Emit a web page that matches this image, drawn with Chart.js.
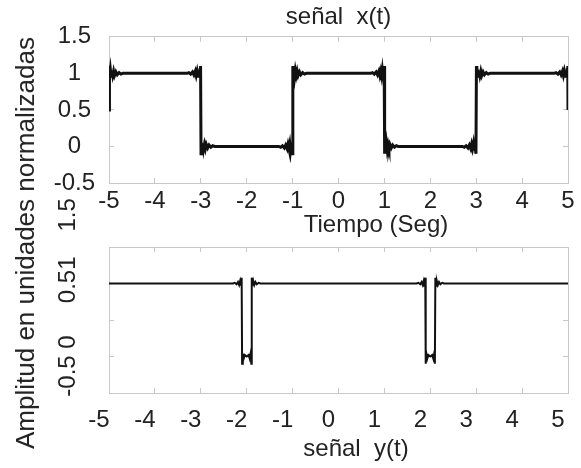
<!DOCTYPE html>
<html>
<head>
<meta charset="utf-8">
<script src="https://cdn.jsdelivr.net/npm/chart.js@4.4.1/dist/chart.umd.min.js"></script>
<style>
  body { margin: 0; background: #fff; }
  #wrap { position: relative; width: 581px; height: 468px; background: #fff; }
  #wrap canvas { position: absolute; left: 0; top: 0; }
  .lbl {
    position: absolute; white-space: pre; color: #222;
    font: 24px 'Liberation Sans', Arial, sans-serif; line-height: 28px;
  }
  #ylab { left: 25px; top: 243px; transform: translate(-50%, -50%) rotate(-90deg); font-size: 26px; }
  #xlabTop { left: 376px; top: 224px; transform: translate(-50%, -50%); }
  #xlabBot { left: 356px; top: 448px; transform: translate(-50%, -50%); }
</style>
</head>
<body>
<div id="wrap">
  <canvas id="topChart" width="581" height="468"></canvas>
  <canvas id="botChart" width="581" height="468"></canvas>
  <div class="lbl" id="ylab">Amplitud en unidades normalizadas</div>
  <div class="lbl" id="xlabTop">Tiempo (Seg)</div>
  <div class="lbl" id="xlabBot">señal  y(t)</div>
</div>
<script>
// señal x(t): onda cuadrada con el rizado de Gibbs en cada salto
const tX = [
  -5, -4.995, -4.985, -4.97, -4.955, -4.94, -4.92, -4.9, -4.88, -4.85, -4.82, -4.78, -4.74, -4.7,
  -3.3, -3.26, -3.22, -3.18, -3.15, -3.12, -3.1, -3.08, -3.06, -3.045, -3.03, -3.015, -3.005,
  -2.995, -2.985, -2.97, -2.955, -2.94, -2.92, -2.9, -2.88, -2.85, -2.82, -2.78, -2.74, -2.7,
  -1.3, -1.26, -1.22, -1.18, -1.15, -1.12, -1.1, -1.08, -1.06, -1.045, -1.03, -1.015, -1.005,
  -0.995, -0.985, -0.97, -0.955, -0.94, -0.92, -0.9, -0.88, -0.85, -0.82, -0.78, -0.74, -0.7,
  0.7, 0.74, 0.78, 0.82, 0.85, 0.88, 0.9, 0.92, 0.94, 0.955, 0.97, 0.985, 0.995,
  1.005, 1.015, 1.03, 1.045, 1.06, 1.08, 1.1, 1.12, 1.15, 1.18, 1.22, 1.26, 1.3,
  2.7, 2.74, 2.78, 2.82, 2.85, 2.88, 2.9, 2.92, 2.94, 2.955, 2.97, 2.985, 2.995,
  3.005, 3.015, 3.03, 3.045, 3.06, 3.08, 3.1, 3.12, 3.15, 3.18, 3.22, 3.26, 3.3,
  4.7, 4.74, 4.78, 4.82, 4.85, 4.88, 4.9, 4.92, 4.94, 4.955, 4.97, 4.985, 4.995, 5
];
const xVals = [
  0.5, 1.1, 0.95, 1.05, 0.96, 1.04, 0.97, 1.03, 0.97, 1.02, 0.98, 1.01, 0.99, 1,
  1, 1.01, 0.99, 1.02, 0.98, 1.03, 0.97, 1.03, 0.96, 1.04, 0.95, 1.05, 1.1,
  -0.1, 0.05, -0.05, 0.04, -0.04, 0.03, -0.03, 0.03, -0.02, 0.02, -0.01, 0.01, 0,
  0, -0.01, 0.01, -0.02, 0.02, -0.03, 0.03, -0.03, 0.04, -0.04, 0.05, -0.05, -0.1,
  1.1, 0.95, 1.05, 0.96, 1.04, 0.97, 1.03, 0.97, 1.02, 0.98, 1.01, 0.99, 1,
  1, 1.01, 0.99, 1.02, 0.98, 1.03, 0.97, 1.03, 0.96, 1.04, 0.95, 1.05, 1.1,
  -0.1, 0.05, -0.05, 0.04, -0.04, 0.03, -0.03, 0.03, -0.02, 0.02, -0.01, 0.01, 0,
  0, -0.01, 0.01, -0.02, 0.02, -0.03, 0.03, -0.03, 0.04, -0.04, 0.05, -0.05, -0.1,
  1.1, 0.95, 1.05, 0.96, 1.04, 0.97, 1.03, 0.97, 1.02, 0.98, 1.01, 0.99, 1,
  1, 1.01, 0.99, 1.02, 0.98, 1.03, 0.97, 1.03, 0.96, 1.04, 0.95, 1.05, 1.1, 0.5
];

// señal y(t): nivel 1 con dos huecos estrechos cerca de t = -2 y t = 2
const tY = [
  -5,
  -2.3, -2.26, -2.22, -2.19, -2.165, -2.145, -2.13, -2.118, -2.11,
  -2.1, -2.085, -2.065, -2.04, -2.0, -1.96, -1.935, -1.915, -1.9,
  -1.89, -1.882, -1.87, -1.855, -1.835, -1.81, -1.78, -1.74, -1.7,
  1.7, 1.74, 1.78, 1.81, 1.835, 1.855, 1.87, 1.882, 1.89,
  1.9, 1.915, 1.935, 1.96, 2.0, 2.04, 2.065, 2.085, 2.1,
  2.11, 2.118, 2.13, 2.145, 2.165, 2.19, 2.22, 2.26, 2.3,
  5
];
const yVals = [
  1,
  1, 1.01, 0.99, 1.02, 0.98, 1.03, 0.97, 1.04, 1.08,
  -0.1, 0.04, -0.03, 0.02, 0, 0.02, -0.03, 0.04, -0.1,
  1.08, 1.04, 0.97, 1.03, 0.98, 1.02, 0.99, 1.01, 1,
  1, 1.01, 0.99, 1.02, 0.98, 1.03, 0.97, 1.04, 1.08,
  -0.1, 0.04, -0.03, 0.02, 0, 0.02, -0.03, 0.04, -0.1,
  1.08, 1.04, 0.97, 1.03, 0.98, 1.02, 0.99, 1.01, 1,
  1
];

// marcas del eje y de abajo y sus etiquetas (giradas y montadas, como en la figura)
const yBotMarks = [-0.5, 0, 0.5, 1, 1.5];
const yBotLabelPos = [1.94, 1.05, -0.13];
const yBotLabels = ['1.5', '0.51', '-0.5 0'];

const frame = '#c8c8c8';
const txt = '#222';
const font = { family: "'Liberation Sans', Arial, sans-serif", size: 24 };

function edgeAxis(pos, min, max, step) {
  return {
    type: 'linear', position: pos, min: min, max: max,
    ticks: { display: false, stepSize: step },
    grid: { drawOnChartArea: false, tickLength: -5, color: frame },
    border: { color: frame },
    afterFit: s => { if (s.isHorizontal()) s.height = 0; else s.width = 0; }
  };
}

// quita el margen extra que Chart.js reserva para la primera y la última etiqueta
function noPad(s) { s.paddingLeft = 0; s.paddingRight = 0; s.paddingTop = 0; s.paddingBottom = 0; }

new Chart(document.getElementById('topChart'), {
  type: 'line',
  data: {
    datasets: [{
      data: tX.map((t, i) => ({ x: t, y: xVals[i] })),
      borderColor: '#111', borderWidth: 3, pointRadius: 0, tension: 0
    }]
  },
  options: {
    responsive: false, animation: false, events: [],
    layout: { padding: { left: 0, right: 13, top: 0, bottom: 245 } },
    plugins: {
      legend: { display: false },
      tooltip: { enabled: false },
      title: {
        display: true, fullSize: false, text: 'señal  x(t)', color: txt,
        font: { family: font.family, size: 24, weight: 'normal' }, padding: { top: 3, bottom: 5 }
      }
    },
    scales: {
      x: {
        type: 'linear', min: -5, max: 5,
        ticks: { stepSize: 1, color: txt, font: font, padding: 9, maxRotation: 0, autoSkip: false },
        grid: { drawOnChartArea: false, tickLength: -5, color: frame },
        border: { color: frame },
        afterFit: s => { s.height = 40; noPad(s); }
      },
      y: {
        min: -0.5, max: 1.5,
        ticks: { stepSize: 0.5, color: txt, font: font, padding: 19, crossAlign: 'center', callback: v => String(v) },
        grid: { drawOnChartArea: false, tickLength: -5, color: frame },
        border: { color: frame },
        afterFit: s => { s.width = 109; noPad(s); }
      },
      x2: edgeAxis('top', -5, 5, 1),
      y2: edgeAxis('right', -0.5, 1.5, 0.5)
    }
  }
});

new Chart(document.getElementById('botChart'), {
  type: 'line',
  data: {
    datasets: [{
      data: tY.map((t, i) => ({ x: t, y: yVals[i] })),
      borderColor: '#111', borderWidth: 2, pointRadius: 0, tension: 0
    }]
  },
  options: {
    responsive: false, animation: false, events: [],
    layout: { padding: { left: 0, right: 13, top: 247, bottom: 15 } },
    plugins: { legend: { display: false }, tooltip: { enabled: false } },
    scales: {
      x: {
        type: 'linear', min: -5, max: 5,
        ticks: { stepSize: 1, color: txt, font: font, padding: 18, labelOffset: -10, maxRotation: 0, autoSkip: false },
        grid: { drawOnChartArea: false, tickLength: -5, color: frame },
        border: { color: frame },
        afterFit: s => { s.height = 60; noPad(s); }
      },
      y: {
        min: -0.5, max: 1.5,
        afterBuildTicks: s => { s.ticks = yBotMarks.concat(yBotLabelPos).map(v => ({ value: v })); },
        ticks: {
          autoSkip: false, minRotation: 90, maxRotation: 90, crossAlign: 'center',
          padding: 15, color: txt, font: font,
          callback: v => { const i = yBotLabelPos.indexOf(v); return i >= 0 ? yBotLabels[i] : ''; }
        },
        grid: {
          drawOnChartArea: false, tickLength: -5,
          color: c => (c.tick && yBotLabelPos.includes(c.tick.value)) ? 'rgba(0,0,0,0)' : frame
        },
        border: { color: frame },
        afterFit: s => { s.width = 109; noPad(s); }
      },
      x2: edgeAxis('top', -5, 5, 1),
      y2: edgeAxis('right', -0.5, 1.5, 0.5)
    }
  }
});
</script>
</body>
</html>
